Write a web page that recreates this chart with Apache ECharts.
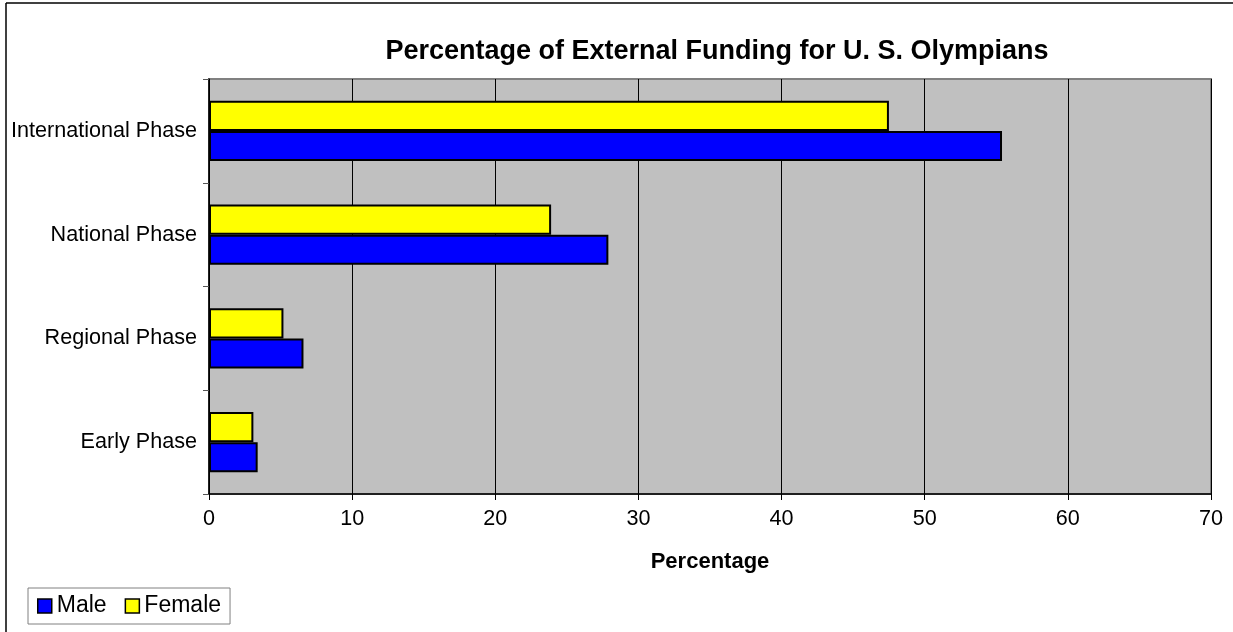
<!DOCTYPE html>
<html>
<head>
<meta charset="utf-8">
<script src="https://cdn.jsdelivr.net/npm/echarts@6/dist/echarts.min.js"></script>
<style>html,body{margin:0;padding:0;background:#fff;}#c{width:1233px;height:632px;}</style>
</head>
<body>
<div id="c"></div>
<script>
const categories = ["Early Phase", "Regional Phase", "National Phase", "International Phase"];
const maleValues = [3.4, 6.6, 27.9, 55.4];
const femaleValues = [3.1, 5.2, 23.9, 47.5];
const seriesNames = ["Male", "Female"];
const titleText = "Percentage of External Funding for U. S. Olympians";
const xAxisName = "Percentage";

const chart = echarts.init(document.getElementById('c'), null, {renderer: 'canvas'});
const font = "Liberation Sans, Arial, sans-serif";
chart.setOption({
  animation: false,
  backgroundColor: '#ffffff',
  title: {
    text: titleText,
    left: 712, top: 33, textAlign: 'center',
    textStyle: {fontFamily: font, fontSize: 27, fontWeight: 'bold', color: '#000'}
  },
  legend: {
    left: 28, top: 588,
    orient: 'horizontal',
    data: seriesNames,
    icon: 'rect', itemWidth: 14, itemHeight: 14, itemGap: 18,
    padding: [6, 9, 6, 9],
    backgroundColor: '#fff', borderColor: '#808080', borderWidth: 1,
    textStyle: {fontFamily: font, fontSize: 23, color: '#000', lineHeight: 24},
    itemStyle: {borderColor: '#000', borderWidth: 1.5}
  },
  grid: {
    left: 209, right: 22, top: 79, bottom: 138,
    show: true, backgroundColor: '#c0c0c0', borderColor: '#808080', borderWidth: 2
  },
  xAxis: {
    type: 'value', min: 0, max: 70, interval: 10,
    name: xAxisName, nameLocation: 'middle', nameGap: 57,
    nameTextStyle: {fontFamily: font, fontSize: 22, fontWeight: 'bold', color: '#000'},
    axisLine: {show: true, lineStyle: {color: '#000', width: 1.5}},
    axisTick: {show: true, length: 6, lineStyle: {color: '#000'}},
    axisLabel: {fontFamily: font, fontSize: 21.6, color: '#000', margin: 14},
    splitLine: {show: true, lineStyle: {color: '#000', width: 1}}
  },
  yAxis: {
    type: 'category', data: categories,
    axisLine: {show: true, lineStyle: {color: '#000', width: 1.5}},
    axisTick: {show: true, length: 6, lineStyle: {color: '#555'}},
    axisLabel: {fontFamily: font, fontSize: 21.6, color: '#000', margin: 12},
    splitLine: {show: false}
  },
  series: [
    {
      name: seriesNames[1], type: 'bar', data: femaleValues,
      barGap: '0%', barCategoryGap: '42%',
      itemStyle: {color: '#ffff00', borderColor: '#000', borderWidth: 2}
    },
    {
      name: seriesNames[0], type: 'bar', data: maleValues,
      barGap: '0%', barCategoryGap: '42%',
      itemStyle: {color: '#0000ff', borderColor: '#000', borderWidth: 2}
    }
  ],
  graphic: [
    {type: 'line', shape: {x1: 6, y1: 3, x2: 1233, y2: 3}, style: {stroke: '#000', lineWidth: 1.5}, silent: true},
    {type: 'line', shape: {x1: 6, y1: 3, x2: 6, y2: 632}, style: {stroke: '#000', lineWidth: 1.5}, silent: true}
  ]
});
</script>
</body>
</html>
